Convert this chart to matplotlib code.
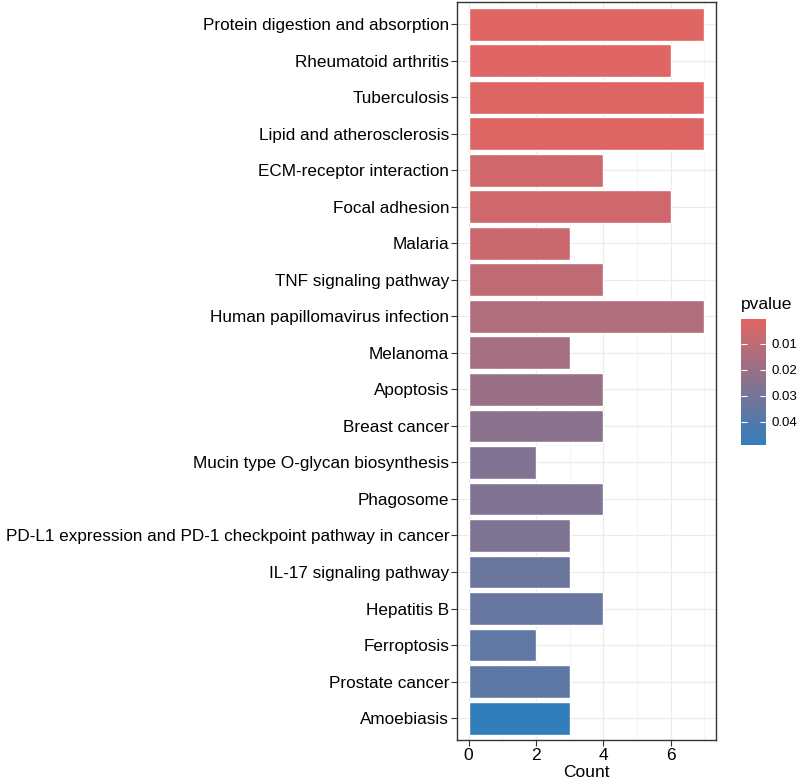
import matplotlib.pyplot as plt
import matplotlib as mpl
import numpy as np
from matplotlib.colors import LinearSegmentedColormap, Normalize

plt.rcParams['font.family'] = ['Liberation Sans', 'DejaVu Sans']

# pathways, top to bottom
pathways = ['Protein digestion and absorption', 'Rheumatoid arthritis', 'Tuberculosis',
            'Lipid and atherosclerosis', 'ECM-receptor interaction', 'Focal adhesion',
            'Malaria', 'TNF signaling pathway', 'Human papillomavirus infection',
            'Melanoma', 'Apoptosis', 'Breast cancer', 'Mucin type O-glycan biosynthesis',
            'Phagosome', 'PD-L1 expression and PD-1 checkpoint pathway in cancer',
            'IL-17 signaling pathway', 'Hepatitis B', 'Ferroptosis', 'Prostate cancer',
            'Amoebiasis']
counts = [7, 6, 7, 7, 4, 6, 3, 4, 7, 3, 4, 4, 2, 4, 3, 3, 4, 2, 3, 3]
pvalues = [0.0004, 0.0008, 0.0012, 0.0015, 0.005, 0.0055, 0.007, 0.010, 0.014, 0.017,
           0.020, 0.024, 0.027, 0.027, 0.028, 0.033, 0.034, 0.036, 0.037, 0.049]

cmap = LinearSegmentedColormap.from_list('pv', ['#E06663', '#327EBA'])
norm = Normalize(vmin=min(pvalues), vmax=max(pvalues))

fig = plt.figure(figsize=(8, 7.81), dpi=100)
ax = fig.add_axes([0.571, 0.0525, 0.324, 0.9445])

n = len(pathways)
ypos = np.arange(n)[::-1]
ax.barh(ypos, counts, height=0.9, color=cmap(norm(np.array(pvalues))),
        edgecolor='white', linewidth=1, zorder=3)

ax.set_xlim(-0.35, 7.35)
ax.set_ylim(-0.6, n - 0.4)
ax.set_yticks(ypos)
ax.set_yticklabels(pathways, fontsize=12.3, color='black')
ax.set_xticks([0, 2, 4, 6])
ax.set_xticks([1, 3, 5, 7], minor=True)
ax.tick_params(axis='x', labelsize=12.5, labelcolor='black', length=4, color='#333333', width=0.8, pad=2)
ax.tick_params(axis='x', which='minor', length=0)
ax.tick_params(axis='y', length=4, color='#333333', width=0.8, pad=1.5)
ax.grid(True, which='major', color='#EBEBEB', linewidth=0.9, zorder=0)
ax.grid(True, which='minor', axis='x', color='#F2F2F2', linewidth=0.5, zorder=0)
ax.set_axisbelow(True)
for s in ax.spines.values():
    s.set_color('#333333')
    s.set_linewidth(1.0)
ax.set_xlabel('Count', fontsize=12.5, labelpad=1)

# colourbar legend, low p-values (red) on top
cax = fig.add_axes([741 / 800, 1 - 445 / 781, 25 / 800, 126 / 781])
cb = fig.colorbar(mpl.cm.ScalarMappable(norm=norm, cmap=cmap), cax=cax)
cax.invert_yaxis()
cb.set_ticks([0.01, 0.02, 0.03, 0.04])
cb.set_ticklabels(['0.01', '0.02', '0.03', '0.04'])
cb.outline.set_visible(False)
cax.tick_params(labelsize=9.5, length=4, color='white', direction='in', pad=4)
cax.tick_params(which='both', left=True, right=True, direction='in')
fig.text(741 / 800, 1 - 305 / 781, 'pvalue', fontsize=12.5, va='center', ha='left')

fig.savefig('out.png', dpi=100)
